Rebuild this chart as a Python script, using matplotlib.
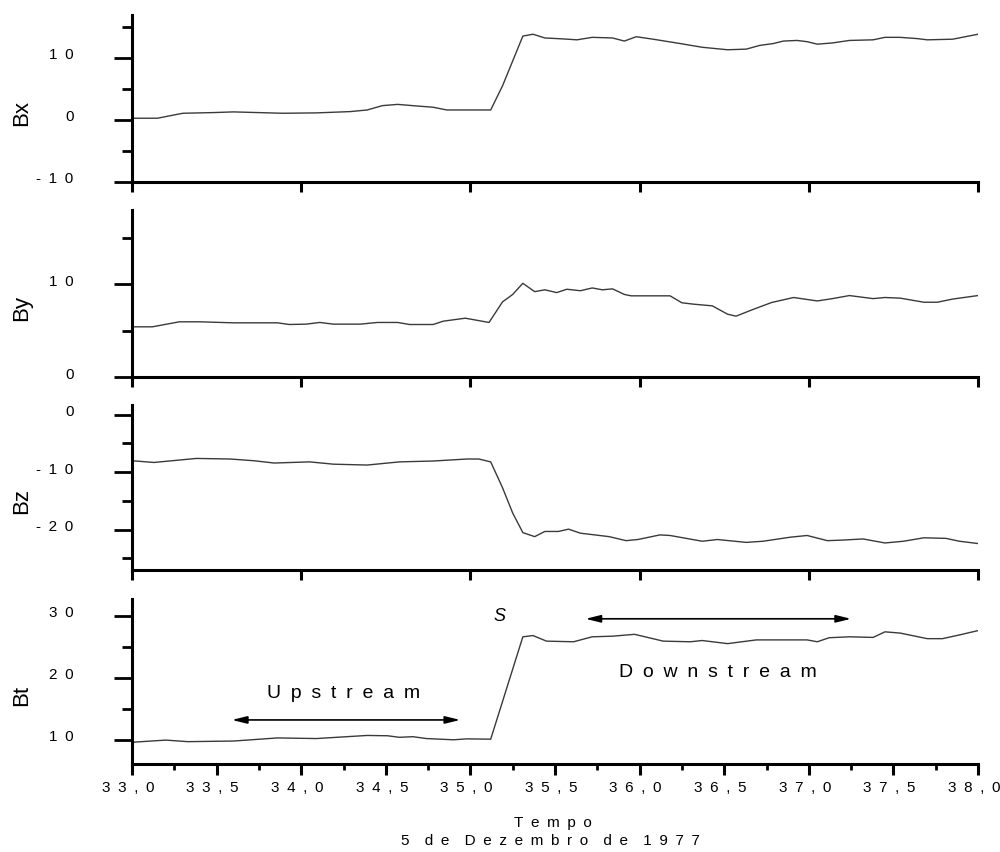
import numpy as np
import matplotlib.pyplot as plt
from matplotlib.ticker import FixedLocator
from matplotlib.transforms import ScaledTranslation

plt.rcParams["font.family"] = ["Liberation Sans", "DejaVu Sans"]

# dados (dia 5/12/1977)
bx_t = [33.00, 33.15, 33.30, 33.48, 33.60, 33.89, 34.09, 34.29, 34.39, 34.48,
        34.57, 34.68, 34.78, 34.86, 35.12, 35.19, 35.31, 35.37, 35.44, 35.54,
        35.63, 35.72, 35.84, 35.91, 35.98, 36.08, 36.24, 36.37, 36.52, 36.63,
        36.71, 36.79, 36.85, 36.93, 36.99, 37.05, 37.14, 37.24, 37.38, 37.45,
        37.54, 37.64, 37.70, 37.85, 38.00]
bx = [0.27, 0.27, 1.07, 1.18, 1.29, 1.07, 1.13, 1.34, 1.6, 2.3,
      2.5, 2.25, 2.04, 1.6, 1.6, 5.5, 13.5, 13.8, 13.2, 13.06,
      12.9, 13.3, 13.2, 12.7, 13.4, 13.0, 12.3, 11.7, 11.3, 11.4,
      12.0, 12.3, 12.7, 12.8, 12.6, 12.2, 12.4, 12.8, 12.9, 13.3,
      13.3, 13.1, 12.9, 13.0, 13.8]

by_t = [33.00, 33.12, 33.28, 33.40, 33.60, 33.86, 33.93, 34.03, 34.11, 34.19,
        34.35, 34.45, 34.57, 34.64, 34.78, 34.84, 34.97, 35.11, 35.19, 35.25,
        35.31, 35.38, 35.44, 35.51, 35.57, 35.65, 35.72, 35.78, 35.84, 35.91,
        35.95, 36.18, 36.25, 36.32, 36.43, 36.52, 36.57, 36.67, 36.78, 36.91,
        37.05, 37.14, 37.24, 37.38, 37.45, 37.54, 37.68, 37.76, 37.85, 38.00]
by = [5.41, 5.41, 5.95, 5.95, 5.84, 5.84, 5.66, 5.7, 5.88, 5.7,
      5.7, 5.88, 5.88, 5.66, 5.66, 6.02, 6.34, 5.88, 8.1, 8.9,
      10.1, 9.2, 9.4, 9.1, 9.46, 9.3, 9.6, 9.4, 9.5, 8.9,
      8.75, 8.75, 8.0, 7.85, 7.67, 6.77, 6.56, 7.28, 8.03, 8.57,
      8.2, 8.45, 8.78, 8.45, 8.57, 8.5, 8.06, 8.06, 8.4, 8.78]

bz_t = [33.00, 33.13, 33.38, 33.58, 33.72, 33.84, 34.05, 34.19, 34.39, 34.58,
        34.78, 34.98, 35.05, 35.12, 35.19, 35.25, 35.31, 35.38, 35.44, 35.52,
        35.58, 35.65, 35.82, 35.92, 35.99, 36.12, 36.18, 36.37, 36.46, 36.63,
        36.73, 36.89, 36.99, 37.11, 37.20, 37.32, 37.45, 37.56, 37.68, 37.81,
        37.89, 38.00]
bz = [-8.0, -8.3, -7.6, -7.7, -8.0, -8.4, -8.2, -8.6, -8.75, -8.2,
      -8.05, -7.7, -7.7, -8.2, -12.7, -17.1, -20.5, -21.2, -20.3, -20.3,
      -19.9, -20.6, -21.2, -21.9, -21.7, -20.9, -21.0, -22.0, -21.7, -22.2,
      -22.0, -21.3, -21.0, -21.9, -21.8, -21.6, -22.3, -22.0, -21.4, -21.5,
      -22.0, -22.4]

bt_t = [33.00, 33.20, 33.33, 33.60, 33.86, 34.09, 34.39, 34.51, 34.58, 34.66,
        34.74, 34.90, 34.98, 35.12, 35.31, 35.37, 35.45, 35.61, 35.72, 35.84,
        35.97, 36.14, 36.30, 36.37, 36.52, 36.69, 36.99, 37.05, 37.12, 37.24,
        37.38, 37.45, 37.54, 37.70, 37.79, 37.89, 38.00]
bt = [9.6, 9.95, 9.7, 9.8, 10.3, 10.2, 10.7, 10.65, 10.4, 10.5,
      10.2, 10.0, 10.15, 10.1, 26.6, 26.8, 25.9, 25.8, 26.6, 26.7,
      27.0, 25.9, 25.8, 26.0, 25.5, 26.1, 26.1, 25.8, 26.45, 26.6,
      26.5, 27.4, 27.2, 26.3, 26.3, 26.9, 27.6]

panel_names = ["Bx", "By", "Bz", "Bt"]
panel_ylims = [(-10, 16.9), (0, 18), (-27, 1.7), (6.1, 32.7)]
panel_major = [[-10, 0, 10], [0, 10], [-20, -10, 0], [10, 20, 30]]
panel_minor = [[-5, 5, 15], [5, 15], [-25, -15, -5], [15, 25]]

x_major = [33.0, 33.5, 34.0, 34.5, 35.0, 35.5, 36.0, 36.5, 37.0, 37.5, 38.0]
x_labels = ["33,0", "33,5", "34,0", "34,5", "35,0", "35,5",
            "36,0", "36,5", "37,0", "37,5", "38,0"]
x_minor = [33.25, 33.75, 34.25, 34.75, 35.25, 35.75, 36.25, 36.75, 37.25, 37.75]
x_top_ticks = [33, 34, 35, 36, 37, 38]

EN = "\u2002"


def spaced(s):
    words = s.split(" ")
    return (EN * 2).join(EN.join(w) for w in words)


series = [(bx_t, bx), (by_t, by), (bz_t, bz), (bt_t, bt)]
# [left, bottom, width, height] em fracao da figura
boxes = [
    [0.132, 0.7864, 0.846, 0.196],
    [0.132, 0.5575, 0.846, 0.196],
    [0.132, 0.3310, 0.846, 0.1937],
    [0.132, 0.1033, 0.846, 0.1937],
]

fig = plt.figure(figsize=(10, 8.52), dpi=100)
lift = ScaledTranslation(0, 4 / 100, fig.dpi_scale_trans)
nudge = ScaledTranslation(-4 / 100, 0, fig.dpi_scale_trans)
axes = []
for i, (name, box) in enumerate(zip(panel_names, boxes)):
    ax = fig.add_axes(box)
    t, v = series[i]
    ax.plot(t, v, color="#3a3a3a", lw=1.0)
    ax.set_xlim(33, 38)
    ax.set_ylim(*panel_ylims[i])

    for s in ["top", "right"]:
        ax.spines[s].set_visible(False)
    for s in ["left", "bottom"]:
        ax.spines[s].set_linewidth(2.2)

    ax.yaxis.set_major_locator(FixedLocator(panel_major[i]))
    ax.yaxis.set_minor_locator(FixedLocator(panel_minor[i]))
    ax.set_yticklabels([spaced(str(m)) for m in panel_major[i]])
    ax.tick_params(axis="y", which="major", direction="out", length=13,
                   width=2.0, pad=29, labelsize=11)
    ax.tick_params(axis="y", which="minor", direction="out", length=7, width=2.0)
    for lab in ax.get_yticklabels():
        lab.set_transform(lab.get_transform() + lift)

    ax.set_ylabel(name, fontsize=16, ha="center", va="center")
    ax.yaxis.set_label_coords(-0.13, 0.415)

    if i < 3:
        ax.xaxis.set_major_locator(FixedLocator(x_top_ticks))
        ax.set_xticklabels([])
        ax.tick_params(axis="x", which="major", direction="out", length=7, width=2.2)
    else:
        ax.xaxis.set_major_locator(FixedLocator(x_major))
        ax.xaxis.set_minor_locator(FixedLocator(x_minor))
        ax.set_xticklabels([spaced(l) for l in x_labels])
        ax.tick_params(axis="x", which="major", direction="out", length=8,
                       width=2.2, pad=4, labelsize=11)
        ax.tick_params(axis="x", which="minor", direction="out", length=4.5, width=2.0)
        for lab in ax.get_xticklabels():
            lab.set_transform(lab.get_transform() + nudge)
    axes.append(ax)

ax = axes[3]
arrow = dict(arrowstyle="<|-|>,head_length=0.9,head_width=0.22", color="black",
             lw=1.2, shrinkA=0, shrinkB=0)
ax.annotate("", xy=(33.59, 13.2), xytext=(34.94, 13.2), arrowprops=arrow)
ax.annotate("", xy=(35.68, 29.5), xytext=(37.25, 29.5), arrowprops=arrow)
ax.text(34.25, 17.4, spaced("Upstream"), fontsize=14, ha="center", va="center")
ax.text(36.46, 20.8, spaced("Downstream"), fontsize=14, ha="center", va="center")
ax.text(35.17, 29.8, "S", fontsize=13, style="italic", ha="center", va="center")

fig.text(0.553, 1 - 823 / 852, spaced("Tempo"), fontsize=11, ha="center", va="center")
fig.text(0.550, 1 - 841 / 852, spaced("5 de Dezembro de 1977"), fontsize=11,
         ha="center", va="center")

fig.savefig("out.png", dpi=100)
